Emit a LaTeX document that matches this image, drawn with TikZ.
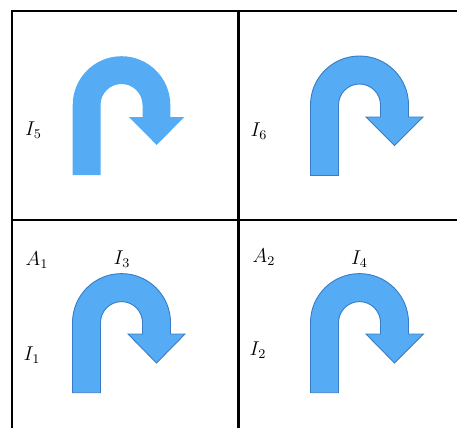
\documentclass[tikz,border=0pt]{standalone}
\usepackage{amsmath, amssymb}
\usepackage{xcolor}
\usepackage{tikz}
\definecolor{turnblue}{HTML}{55ACF5}
\definecolor{turnedge}{HTML}{3A7CC4}
\tikzset{
  gridline/.style={draw=black,line width=1.35pt},
  turnflat/.style={fill=turnblue,draw=none},
  turnedged/.style={fill=turnblue,draw=turnedge,line width=0.55pt},
  every node/.style={font=\large},
}

\begin{document}
\begin{tikzpicture}[scale=0.0211]
  \useasboundingbox(0,0)rectangle(457,-428);
  % grid
  \coordinate(topleft)at(11.7,-11);\coordinate(topmid)at(238.5,-11);\coordinate(topright)at(457,-11);
  \coordinate(midleft)at(11.7,-220);\coordinate(midright)at(457,-220);
  \coordinate(botleft)at(11.7,-428);\coordinate(botmid)at(238.5,-428);
  \draw[gridline](topright)--(topleft)--(botleft);
  \draw[gridline](topmid)--(botmid);
  \draw[gridline](midleft)--(midright);
  % arrows
  \draw[turnflat](72.7,-175)--(72.7,-105)arc[start angle=180,end angle=0,radius=48.8]--(170.3,-117)--(184.3,-117)--(156.7,-145)--(129,-117)--(142.5,-117)--(142.5,-105)arc[start angle=0,end angle=180,radius=21]--(100.5,-175)--cycle;
  \draw[turnedged](310.5,-175.5)--(310.5,-105)arc[start angle=180,end angle=0,radius=49]--(408.5,-117)--(423,-117)--(394.5,-145.5)--(366,-117)--(380.5,-117)--(380.5,-105)arc[start angle=0,end angle=180,radius=21]--(338.5,-175.5)--cycle;
  \draw[turnedged](72.5,-392.7)--(72.5,-322.6)arc[start angle=180,end angle=0,radius=49]--(170.5,-334)--(185,-334)--(156.5,-363)--(128,-334)--(142.5,-334)--(142.5,-322.6)arc[start angle=0,end angle=180,radius=21]--(100.5,-392.7)--cycle;
  \draw[turnedged](310.5,-392.7)--(310.5,-322.6)arc[start angle=180,end angle=0,radius=49]--(408.5,-334)--(423.5,-334)--(394.5,-363)--(366,-334)--(380.5,-334)--(380.5,-322.6)arc[start angle=0,end angle=180,radius=21]--(338.5,-392.7)--cycle;
  % labels
  \node(ifive)at(33.5,-130){$I_5$};\node(isix)at(259,-131){$I_6$};
  \node(aone)at(37,-260){$A_1$};\node(ithree)at(122,-259){$I_3$};
  \node(ione)at(32,-355){$I_1$};\node(atwo)at(264,-257){$A_2$};
  \node(ifour)at(359.5,-259){$I_4$};\node(itwo)at(258,-350){$I_2$};
\end{tikzpicture}
\end{document}
